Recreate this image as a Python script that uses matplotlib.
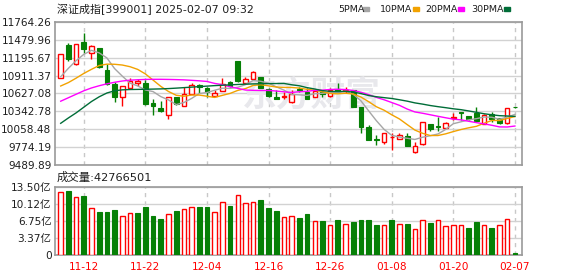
import numpy as np
import pandas as pd
import matplotlib
matplotlib.use("Agg")
import matplotlib.pyplot as plt
from matplotlib.patches import Rectangle

plt.rcParams['font.family'] = ['DejaVu Sans', 'Noto Sans CJK SC']

# ----------------------------
# Data
# ----------------------------
dates = ["11-07", "11-08", "11-11", "11-12", "11-13", "11-14", "11-15", "11-18", "11-19", "11-20",
         "11-21", "11-22", "11-25", "11-26", "11-27", "11-28", "11-29", "12-02", "12-03", "12-04",
         "12-05", "12-06", "12-09", "12-10", "12-11", "12-12", "12-13", "12-16", "12-17", "12-18",
         "12-19", "12-20", "12-23", "12-24", "12-25", "12-26", "12-27", "12-30", "12-31", "01-02",
         "01-03", "01-06", "01-07", "01-08", "01-09", "01-10", "01-13", "01-14", "01-15", "01-16",
         "01-17", "01-20", "01-21", "01-22", "01-23", "01-24", "01-27", "02-05", "02-06", "02-07"]

opens = [10867.4, 11390.0, 11099.6, 11442.8, 11263.3, 11342.5, 11000.4, 10777.6, 10577.0, 10714.3,
         10798.7, 10798.7, 10482.0, 10397.6, 10292.0, 10566.5, 10424.0, 10614.0, 10761.8, 10709.0,
         10582.3, 10666.8, 10804.0, 11136.6, 10793.5, 10856.8, 10883.2, 10693.2, 10571.8, 10577.1,
         10492.6, 10695.0, 10656.0, 10566.5, 10651.0, 10587.6, 10693.0, 10661.5, 10682.6, 10408.0,
         10091.0, 9901.0, 9864.0, 9933.0, 9912.0, 9954.0, 9700.7, 9832.7, 10139.0, 10112.5,
         10075.5, 10239.0, 10334.0, 10265.5, 10323.6, 10149.5, 10297.0, 10234.0, 10155.0, 10410.0]

highs = [11252.7, 11432.0, 11411.1, 11580.0, 11395.0, 11342.5, 11089.0, 10809.0, 10751.0, 10878.0,
         10862.0, 10841.0, 10535.0, 10503.0, 10566.5, 10575.0, 10735.0, 10799.0, 10778.0, 10725.0,
         10677.0, 10867.0, 10820.0, 11147.0, 10883.0, 10989.0, 10894.0, 10714.0, 10683.0, 10651.0,
         10683.0, 10735.0, 10709.0, 10683.0, 10683.0, 10709.0, 10799.0, 10725.0, 10682.6, 10408.0,
         10134.0, 9970.0, 10007.0, 10007.0, 10007.0, 10007.0, 9859.0, 10181.0, 10139.0, 10250.0,
         10176.0, 10313.0, 10334.0, 10265.5, 10408.0, 10308.0, 10334.0, 10234.0, 10392.0, 10410.0]

lows = [10867.4, 11147.0, 11084.0, 11263.0, 11168.0, 11036.0, 10762.0, 10498.0, 10434.5, 10714.3,
        10746.0, 10445.0, 10292.0, 10340.0, 10218.0, 10440.0, 10424.0, 10614.0, 10640.0, 10566.5,
        10582.3, 10666.8, 10725.0, 10809.0, 10793.0, 10841.0, 10709.0, 10577.0, 10545.0, 10540.0,
        10471.0, 10651.0, 10540.0, 10566.5, 10566.0, 10577.0, 10651.0, 10640.0, 10413.0, 10007.0,
        9890.8, 9817.0, 9827.0, 9732.0, 9912.0, 9796.0, 9690.0, 9806.0, 10038.0, 10033.0,
        10075.5, 10207.0, 10207.0, 10207.0, 10197.0, 10149.5, 10181.0, 10139.0, 10144.0, 10405.0]

closes = [11252.7, 11173.6, 11411.1, 11337.2, 11379.4, 11052.2, 10772.4, 10566.5, 10740.7, 10830.4,
          10825.1, 10455.6, 10434.5, 10344.8, 10566.5, 10455.6, 10619.3, 10756.5, 10735.4, 10645.7,
          10635.0, 10783.0, 10740.7, 10825.0, 10851.5, 10962.4, 10719.6, 10587.6, 10545.4, 10587.6,
          10619.3, 10690.0, 10545.4, 10672.0, 10624.6, 10682.6, 10666.8, 10682.6, 10419.0, 10102.0,
          9890.8, 9890.8, 9996.3, 9943.5, 9964.8, 9795.9, 9795.9, 10170.6, 10065.0, 10102.0,
          10155.0, 10249.7, 10323.6, 10218.0, 10197.0, 10286.6, 10228.6, 10165.0, 10392.0, 10406.0]

# volume in 亿
volumes = [12.39, 12.65, 11.46, 11.73, 9.22, 8.50, 8.50, 8.89, 7.71, 8.24,
           8.30, 9.49, 7.71, 7.12, 8.10, 8.70, 9.03, 9.42, 9.49, 9.49,
           8.43, 10.41, 9.75, 11.86, 10.21, 10.41, 10.87, 9.29, 8.70, 7.51,
           7.71, 7.31, 8.10, 6.65, 6.72, 5.93, 6.92, 6.13, 6.52, 6.92,
           6.92, 5.93, 5.93, 6.92, 6.13, 6.19, 5.14, 6.92, 6.33, 6.92,
           5.73, 5.93, 5.93, 5.34, 6.52, 5.93, 5.34, 5.93, 7.12, 0.43]

vol_dir = list("rgrgrgggrrggggrgrrggrrgrrrgggr"
               "rggrgrgrggggrgrgrrgrrrrggrgrrg")

# moving-average values before enough history is on screen
ma5_head = [10893, 11026, 11147, 11247]
ma10_head = [10746, 10800, 10870, 10945, 11010, 11070, 11092, 11090, 11078]
ma20_head = [10505, 10560, 10615, 10670, 10715, 10750, 10780, 10805, 10825, 10838,
             10845, 10850, 10852, 10852, 10850, 10847, 10843, 10836, 10828]
ma30_head = [10155, 10240, 10320, 10410, 10500, 10575, 10635, 10670, 10685, 10690,
             10692, 10694, 10697, 10700, 10705, 10712, 10720, 10728, 10736, 10744,
             10752, 10758, 10764, 10770, 10775, 10779, 10782, 10784, 10785]

price_ticks = [9489.89, 9774.19, 10058.48, 10342.78, 10627.08, 10911.37, 11195.67, 11479.96, 11764.26]
vol_ticks = [0, 3.37, 6.75, 10.12, 13.50]
vol_labels = ["0", "3.37亿", "6.75亿", "10.12亿", "13.50亿"]
label_idx = [3, 11, 19, 27, 35, 43, 51, 59]

# ----------------------------
# Helpers
# ----------------------------
close_s = pd.Series(closes)


def ma_line(head, n):
    m = close_s.rolling(n).mean().to_numpy()
    m[:n - 1] = head
    return m


W, H = 578, 276


def box(l, t, r, b):
    return [l / W, 1 - b / H, (r - l) / W, (b - t) / H]


RED = '#ff0000'
GREEN = '#068006'
FRAME = '#9a9a9a'
GRID = '#d2d2d2'
TXT = '#1e1e1e'

fig = plt.figure(figsize=(W / 100, H / 100), dpi=100)
ax = fig.add_axes(box(55, 21.7, 522, 165.3))
axv = fig.add_axes(box(55, 186.7, 522, 255))

x = np.arange(len(closes))
o = np.array(opens)
c = np.array(closes)
up = c >= o

# ----------------------------
# Candles
# ----------------------------
ax.vlines(x, lows, highs, colors=np.where(up, RED, GREEN), lw=1, zorder=3)
body_lo = np.minimum(o, c)
body_h = np.maximum(np.abs(c - o), 1.0)
ax.bar(x[up], body_h[up], bottom=body_lo[up], width=0.58,
       facecolor='white', edgecolor=RED, lw=1, zorder=4)
ax.bar(x[~up], body_h[~up], bottom=body_lo[~up], width=0.62,
       color=GREEN, edgecolor=GREEN, lw=0.8, zorder=4)

# moving averages
ax.plot(x, ma_line(ma5_head, 5), color='#a6a6a6', lw=1, zorder=5)
ax.plot(x, ma_line(ma10_head, 10), color='#f2a200', lw=1, zorder=5)
ax.plot(x, ma_line(ma20_head, 20), color='#ff00ff', lw=1, zorder=5)
ax.plot(x, ma_line(ma30_head, 30), color='#006d38', lw=1, zorder=5)

# watermark
ax.text(0.55, 0.49, "东方财富", transform=ax.transAxes, fontsize=25,
        family=['Noto Sans CJK SC'], fontweight='bold', color='#e8e8ec',
        ha='center', va='center', zorder=1)

# ----------------------------
# Volume
# ----------------------------
vd = np.array(vol_dir)
vol = np.array(volumes)
axv.bar(x[vd == 'r'], vol[vd == 'r'], width=0.58, facecolor='white',
        edgecolor=RED, lw=1, zorder=4)
axv.bar(x[vd == 'g'], vol[vd == 'g'], width=0.62, color=GREEN,
        edgecolor=GREEN, lw=0.8, zorder=4)

# ----------------------------
# Axes styling
# ----------------------------
for a in (ax, axv):
    a.set_xlim(-0.74, 59.92)
    a.set_xticks(label_idx)
    a.grid(axis='x', color='#c8c8c8', lw=1, linestyle=(0, (3, 3)), zorder=0)
    a.grid(axis='y', color=GRID, lw=1, zorder=0)
    a.tick_params(length=0, labelsize=7.6, labelcolor=TXT, pad=2.5)
    for s in a.spines.values():
        s.set_color(FRAME)
        s.set_linewidth(1.2)
    a.set_axisbelow(True)

ax.set_ylim(price_ticks[0], price_ticks[-1])
ax.set_yticks(price_ticks)
ax.set_yticklabels([f"{t:.2f}" for t in price_ticks])
ax.tick_params(axis='x', labelbottom=False)

axv.set_ylim(0, 13.5)
axv.set_yticks(vol_ticks)
axv.set_yticklabels(vol_labels)
axv.set_xticklabels([dates[i] for i in label_idx])
axv.tick_params(axis='x', labelcolor=RED, pad=5, labelsize=7.6)

# ----------------------------
# Header texts
# ----------------------------
fig.text(57 / W, 1 - 9 / H, "深证成指[399001] 2025-02-07 09:32",
         fontsize=7.9, color=TXT, va='center', ha='left')
fig.text(57 / W, 1 - 177.5 / H, "成交量:42766501",
         fontsize=8.2, color=TXT, va='center', ha='left')

legend_items = [("5PMA", 338, '#a6a6a6'), ("10PMA", 380, '#f2a200'),
                ("20PMA", 425, '#ff00ff'), ("30PMA", 471, '#006d38')]
for name, px, col in legend_items:
    fig.text(px / W, 1 - 9 / H, name, fontsize=6.8, color=TXT,
             va='center', ha='left')
    mark_x = px + (25 if name == "5PMA" else 33)
    fig.add_artist(Rectangle((mark_x / W, 1 - 10.5 / H), 6 / W, 3 / H,
                             transform=fig.transFigure, color=col))

fig.savefig("out.png", dpi=100)
